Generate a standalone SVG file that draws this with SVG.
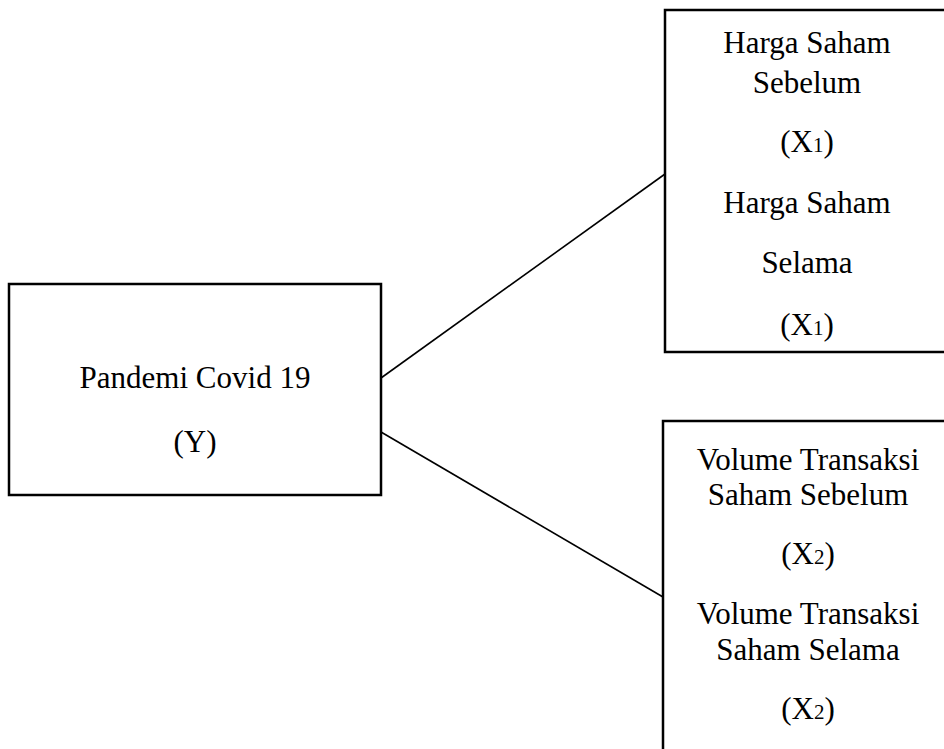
<svg xmlns="http://www.w3.org/2000/svg" width="944" height="749" viewBox="0 0 944 749">
<style>
.box{fill:#fff;stroke:#000;stroke-width:2.5}
.t{font-family:"Liberation Serif","Times New Roman",serif;font-size:31px;fill:#000;text-anchor:middle}
.s{font-size:21px}
.c{stroke:#000;stroke-width:1.6;fill:none}
</style>
<rect width="944" height="749" fill="#fff"/>
<g id="connectors">
<line class="c" x1="381" y1="378" x2="665" y2="174"/>
<line class="c" x1="381" y1="432" x2="663" y2="597"/>
</g>
<g id="node-y">
<rect class="box" x="9" y="284" width="372" height="211"/>
<text class="t" x="195" y="388">Pandemi Covid 19</text>
<text class="t" x="195" y="452">(Y)</text>
</g>
<g id="node-x1">
<rect class="box" x="665" y="10" width="300" height="342"/>
<text class="t" x="807" y="53">Harga Saham</text>
<text class="t" x="807" y="93">Sebelum</text>
<text class="t" x="807" y="152">(X<tspan class="s">1</tspan>)</text>
<text class="t" x="807" y="213">Harga Saham</text>
<text class="t" x="807" y="273">Selama</text>
<text class="t" x="807" y="335">(X<tspan class="s">1</tspan>)</text>
</g>
<g id="node-x2">
<rect class="box" x="663" y="421" width="300" height="360"/>
<text class="t" x="808" y="470">Volume Transaksi</text>
<text class="t" x="808" y="505">Saham Sebelum</text>
<text class="t" x="808" y="564">(X<tspan class="s">2</tspan>)</text>
<text class="t" x="808" y="624">Volume Transaksi</text>
<text class="t" x="808" y="660">Saham Selama</text>
<text class="t" x="808" y="719">(X<tspan class="s">2</tspan>)</text>
</g>
</svg>
